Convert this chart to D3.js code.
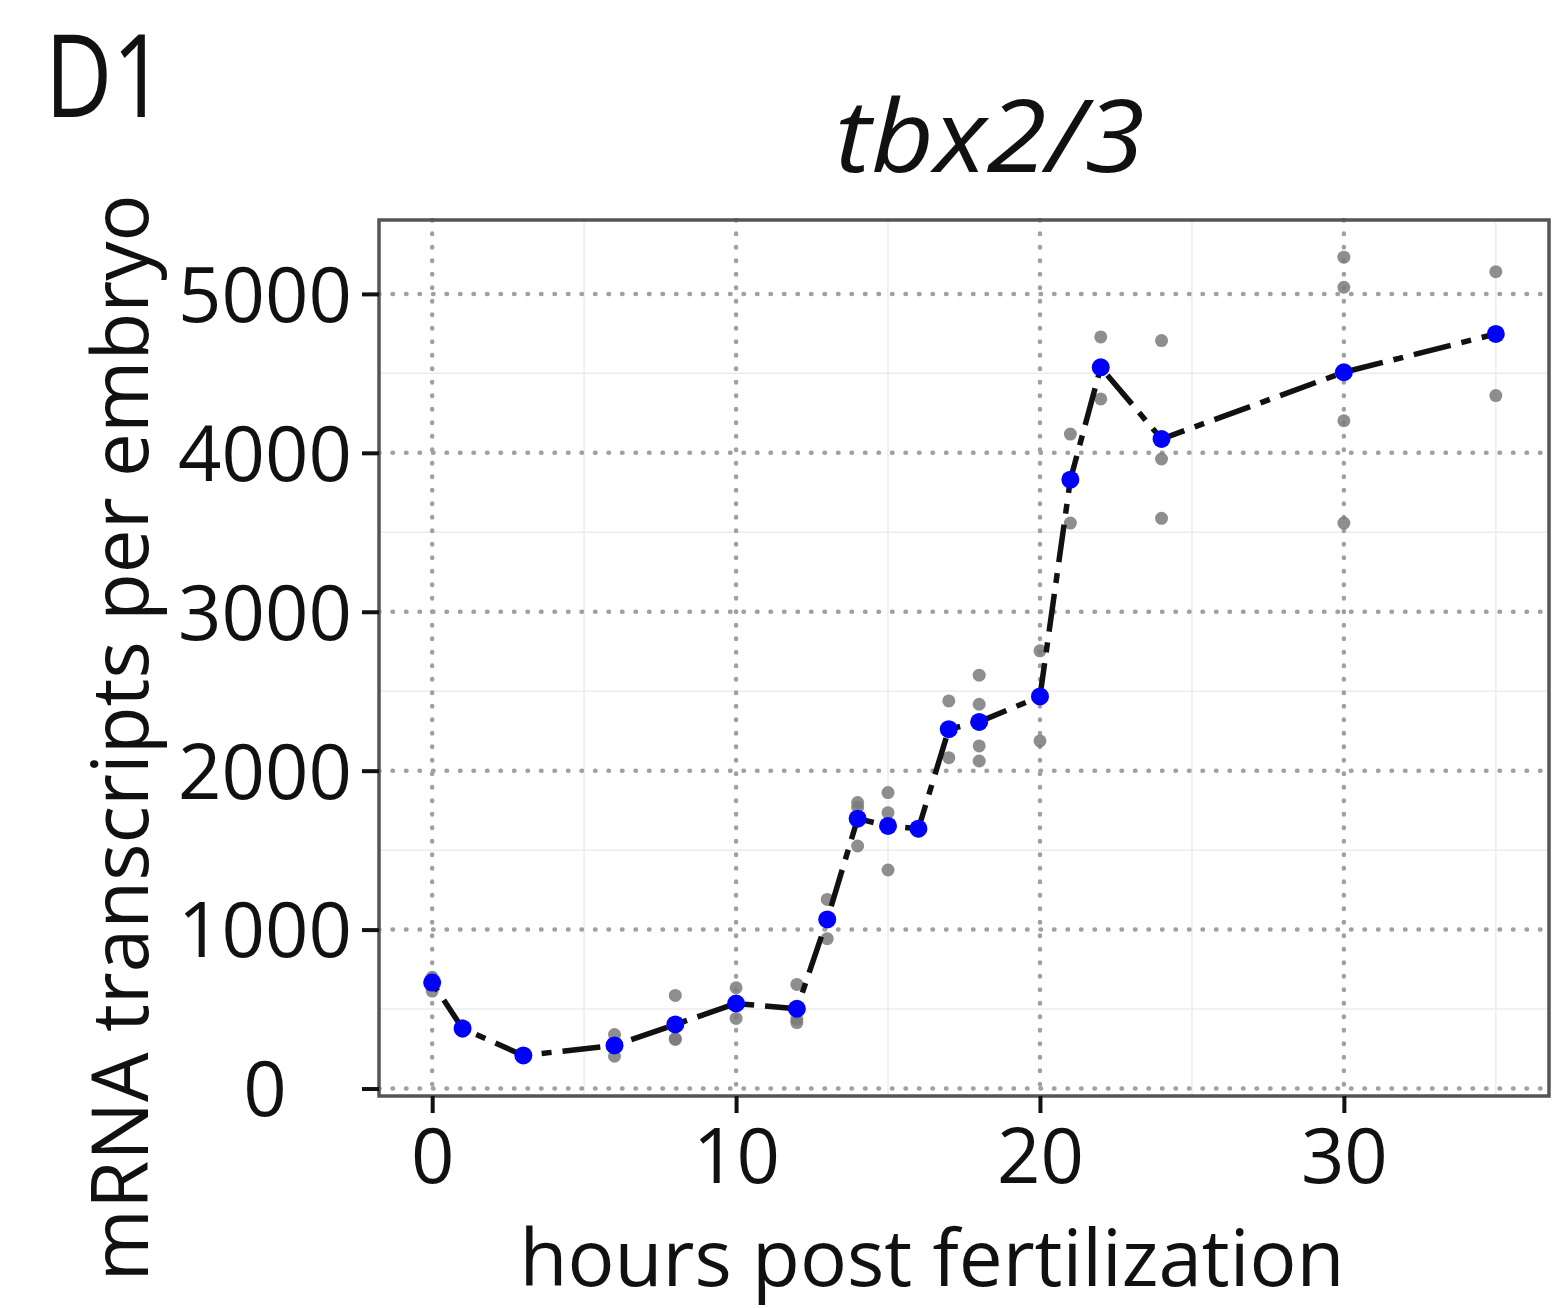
<!DOCTYPE html>
<html>
<head>
<meta charset="utf-8">
<script src="https://cdn.jsdelivr.net/npm/d3@7"></script>
<style>
  html, body { margin: 0; padding: 0; background: #fff; }
  svg { display: block; }
  text { font-family: "Open Sans", "DejaVu Sans", sans-serif; fill: #111; }
</style>
</head>
<body>
<svg id="chart" width="1560" height="1308"></svg>
<script>
// ---- data ----
const hours = [0, 1, 3, 6, 8, 10, 12, 13, 14, 15, 16, 17, 18, 20, 21, 22, 24, 30, 35];
const meanValues = [667, 378, 208, 271, 403, 535, 502, 1064, 1698, 1652, 1635, 2261, 2307, 2467, 3831, 4538, 4087, 4507, 4748];
const repHours = [0,0,0, 1,1, 3,3, 6,6, 8,8,8, 10,10, 12,12,12, 13,13, 14,14,14, 15,15,15, 16,16, 17,17, 18,18,18,18, 20,20, 21,21, 22,22, 24,24,24, 30,30,30,30, 35,35];
const repValues = [613,700,690, 360,395, 195,220, 340,203, 586,309,314, 634,441, 655,415,436, 1190,943, 1799,1526,1770, 1862,1736,1375, 1620,1650, 2439,2082, 2601,2418,2156,2061, 2754,2187, 4118,3558, 4729,4339, 4706,3961,3588, 5231,5042,4202,3558, 5140,4360];
const xTicks = [0, 10, 20, 30];
const yTicks = [0, 1000, 2000, 3000, 4000, 5000];
const xMinor = [5, 15, 25, 35];
const yMinor = [500, 1500, 2500, 3500, 4500];
const panelLabel = "D1";
const titleText = "tbx2/3";
const xTitle = "hours post fertilization";
const yTitle = "mRNA transcripts per embryo";

// ---- layout ----
const svg = d3.select("#chart");
const L = 379, R = 1549, T = 220, B = 1096;
const x = d3.scaleLinear().domain([-1.75, 36.75]).range([L, R]);
const y = d3.scaleLinear().domain([-47, 5465]).range([B, T]);

// minor grid
const g = svg.append("g");
g.selectAll("line.xmin").data(xMinor).enter().append("line")
  .attr("x1", d => x(d)).attr("x2", d => x(d)).attr("y1", T).attr("y2", B)
  .attr("stroke", "#ececec").attr("stroke-width", 1.5);
g.selectAll("line.ymin").data(yMinor).enter().append("line")
  .attr("y1", d => y(d)).attr("y2", d => y(d)).attr("x1", L).attr("x2", R)
  .attr("stroke", "#ececec").attr("stroke-width", 1.5);

// major grid (dotted)
g.selectAll("line.xmaj").data(xTicks).enter().append("line")
  .attr("x1", d => x(d)).attr("x2", d => x(d)).attr("y1", T).attr("y2", B)
  .attr("stroke", "#a0a0a0").attr("stroke-width", 4.5)
  .attr("stroke-linecap", "round").attr("stroke-dasharray", "0.5 13");
g.selectAll("line.ymaj").data(yTicks).enter().append("line")
  .attr("y1", d => y(d)).attr("y2", d => y(d)).attr("x1", L).attr("x2", R)
  .attr("stroke", "#a0a0a0").attr("stroke-width", 4.5)
  .attr("stroke-linecap", "round").attr("stroke-dasharray", "0.5 13");

// replicate points (gray)
svg.append("g").selectAll("circle").data(repHours.map((h, i) => [h, repValues[i]]))
  .enter().append("circle")
  .attr("cx", d => x(d[0])).attr("cy", d => y(d[1])).attr("r", 6.5)
  .attr("fill", "#7a7a7a").attr("fill-opacity", 0.85);

// mean line (twodash)
const meanData = hours.map((h, i) => [h, meanValues[i]]);
svg.append("path").datum(meanData)
  .attr("d", d3.line().x(d => x(d[0])).y(d => y(d[1])))
  .attr("fill", "none").attr("stroke", "#111").attr("stroke-width", 5.5)
  .attr("stroke-dasharray", "10 11 38 11");

// mean points (blue)
svg.append("g").selectAll("circle").data(meanData).enter().append("circle")
  .attr("cx", d => x(d[0])).attr("cy", d => y(d[1])).attr("r", 9)
  .attr("fill", "#0000ff");

// panel border
svg.append("rect").attr("x", L).attr("y", T).attr("width", R - L).attr("height", B - T)
  .attr("fill", "none").attr("stroke", "#555").attr("stroke-width", 3.5);

// axes
const xAxis = svg.append("g").attr("transform", `translate(0,${B})`)
  .call(d3.axisBottom(x).tickValues(xTicks).tickSize(17).tickPadding(8).tickFormat(d3.format("d")));
xAxis.select(".domain").remove();
xAxis.selectAll(".tick line").attr("stroke", "#111").attr("stroke-width", 4);
xAxis.selectAll(".tick text").attr("font-size", 76).attr("dy", null)
  .attr("y", 87).attr("fill", "#111")
  .style("font-family", "'Open Sans', sans-serif");

const yAxis = svg.append("g").attr("transform", `translate(${L},0)`)
  .call(d3.axisLeft(y).tickValues(yTicks).tickSize(17).tickFormat(d3.format("d")));
yAxis.select(".domain").remove();
yAxis.selectAll(".tick line").attr("stroke", "#111").attr("stroke-width", 4);
yAxis.selectAll(".tick text").attr("font-size", 76).attr("text-anchor", "middle")
  .attr("x", 265 - L).attr("dy", "0.36em").attr("fill", "#111")
  .style("font-family", "'Open Sans', sans-serif");

// texts
svg.append("text").attr("transform", "translate(45,117) scale(0.8,1)")
  .attr("font-size", 116).text(panelLabel);
svg.append("text").attr("x", 990).attr("y", 172).attr("text-anchor", "middle")
  .attr("font-size", 100).attr("font-style", "italic")
  .attr("textLength", 310).attr("lengthAdjust", "spacingAndGlyphs").text(titleText);
svg.append("text").attr("x", 932).attr("y", 1286).attr("text-anchor", "middle")
  .attr("font-size", 78).attr("textLength", 825).attr("lengthAdjust", "spacingAndGlyphs")
  .text(xTitle);
svg.append("text").attr("transform", "translate(148,738) rotate(-90)")
  .attr("text-anchor", "middle").attr("font-size", 78)
  .attr("textLength", 1087).attr("lengthAdjust", "spacingAndGlyphs").text(yTitle);
</script>
</body>
</html>
